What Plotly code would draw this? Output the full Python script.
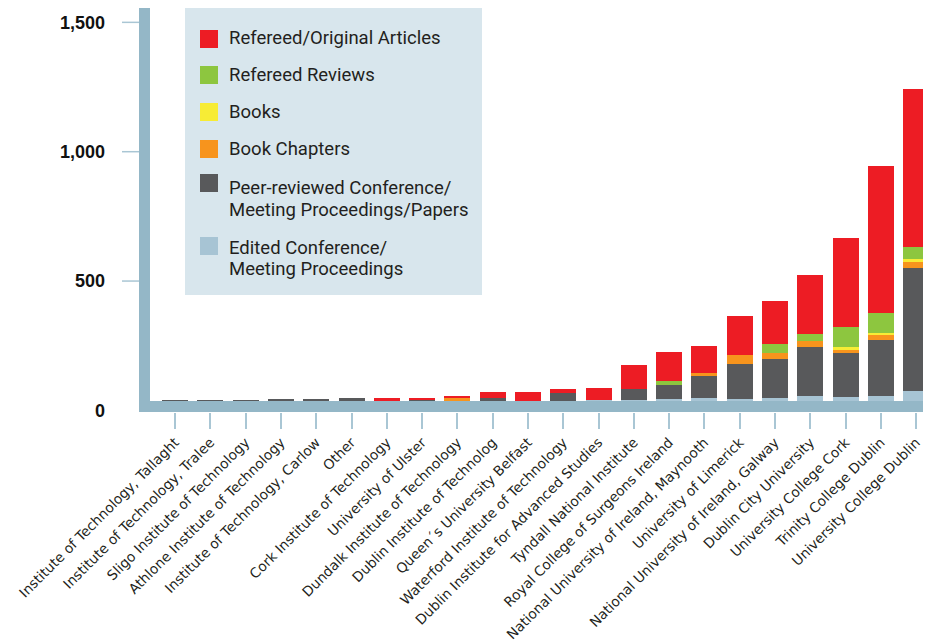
import plotly.graph_objects as go

categories = [
    "Institute of Technology, Tallaght",
    "Institute of Technology, Tralee",
    "Sligo Institute of Technology",
    "Athlone Institute of Technology",
    "Institute of Technology, Carlow",
    "Other",
    "Cork Institute of Technology",
    "University of Ulster",
    "Dundalk Institute of Technology",
    "Dublin Institute of Technolog",
    "Queen´s University Belfast",
    "Waterford Institute of Technology",
    "Dublin Institute for Advanced Studies",
    "Tyndall National Institute",
    "Royal College of Surgeons Ireland",
    "National University of Ireland, Maynooth",
    "University of Limerick",
    "National University of Ireland, Galway",
    "Dublin City University",
    "University College Cork",
    "Trinity College Dublin",
    "University College Dublin",
]

series_names = [
    "Edited Conference/<br>Meeting Proceedings",
    "Peer-reviewed Conference/<br>Meeting Proceedings/Papers",
    "Book Chapters",
    "Books",
    "Refereed Reviews",
    "Refereed/Original Articles",
]

edited_conf = [0, 0, 0, 0, 0, 0, 0, 0, 0, 0, 0, 0, 40, 40, 44, 48, 44, 48, 56, 52, 56, 75]
peer_conf = [40, 40, 40, 44, 44, 48, 34, 40, 36, 48, 34, 67, 0, 43, 54, 85, 136, 151, 189, 170, 216, 475]
book_chapters = [0, 0, 0, 0, 0, 0, 0, 0, 12, 0, 0, 0, 0, 0, 0, 12, 34, 23, 23, 12, 23, 23]
books = [0, 0, 0, 0, 0, 0, 0, 0, 0, 0, 0, 0, 0, 0, 0, 0, 0, 0, 0, 11, 4, 12]
refereed_reviews = [0, 0, 0, 0, 0, 0, 0, 0, 0, 0, 0, 0, 0, 0, 16, 0, 0, 35, 27, 77, 77, 46]
original_articles = [0, 0, 0, 0, 0, 0, 14, 8, 8, 23, 37, 16, 47, 93, 112, 104, 151, 166, 228, 344, 568, 610]

colors = ["#a7c4d4", "#58595b", "#f7941d", "#f7ec35", "#8dc63f", "#ed1c24"]

y_tick_vals = [0, 500, 1000, 1500]
y_tick_text = ["0", "500", "1,000", "1,500"]

series_values = [edited_conf, peer_conf, book_chapters, books, refereed_reviews, original_articles]

fig = go.Figure()
for name, vals, col in zip(series_names, series_values, colors):
    fig.add_trace(go.Bar(x=categories, y=vals, name=name.replace("<br>", " "),
                         marker=dict(color=col, line=dict(width=0)), showlegend=False))

# page body adds an 8px offset; work in reference-image pixel coordinates
OFF = 8
W, H = 931 - OFF, 641 - OFF
L, R, T, B = 150 - OFF, 0, 0, 641 - 412
pw, ph = W - L - R, H - T - B

def px(x):
    return (x - OFF - L) / pw

def py(y):
    return (H - B - (y - OFF)) / ph

band = "#94b7c7"
shapes = [
    dict(type="rect", xref="paper", yref="paper", x0=px(139), x1=1, y0=0, y1=py(401),
         fillcolor=band, line=dict(width=0), layer="above"),
    dict(type="rect", xref="paper", yref="paper", x0=px(139), x1=0, y0=0, y1=1,
         fillcolor=band, line=dict(width=0), layer="above"),
    dict(type="rect", xref="paper", yref="paper", x0=px(185), x1=px(482), y0=py(295), y1=py(8),
         fillcolor="#d8e6ed", line=dict(width=0), layer="above"),
]
for v in y_tick_vals[1:]:
    shapes.append(dict(type="line", xref="paper", yref="y", x0=px(122), x1=px(139), y0=v, y1=v,
                       line=dict(color="#a9c6d4", width=1.5)))

annotations = []
legend_order = [5, 4, 3, 2, 1, 0]
sq_centers = [39, 75, 112, 149, 183, 246]
line_centers = [[38.5], [75], [112], [149], [188, 209.5], [247.5, 269]]
for idx, sc, lcs in zip(legend_order, sq_centers, line_centers):
    shapes.append(dict(type="rect", xref="paper", yref="paper", x0=px(200), x1=px(218),
                       y0=py(sc + 9), y1=py(sc - 9), fillcolor=colors[idx],
                       line=dict(width=0), layer="above"))
    for line_text, lc in zip(series_names[idx].split("<br>"), lcs):
        annotations.append(dict(xref="paper", yref="paper", x=px(227), y=py(lc), text=line_text,
                                showarrow=False, xanchor="left", yanchor="middle", align="left",
                                font=dict(family="Roboto", size=18.5, color="#231f20")))

zero_px = 410.4
scale = 0.2587
y_top = (zero_px - OFF) / scale
y_bot = -(412 - zero_px) / scale

fig.update_layout(
    width=W, height=H,
    margin=dict(l=L, r=R, t=T, b=B, pad=0),
    barmode="stack",
    bargap=0.263,
    plot_bgcolor="white", paper_bgcolor="white",
    shapes=shapes,
    annotations=annotations,
    xaxis=dict(range=[-0.71, 21.42], showgrid=False, zeroline=False, showline=False,
               ticks="outside", ticklen=16, tickwidth=1.5, tickcolor="#a9c6d4",
               tickangle=-45, tickfont=dict(family="DejaVu Sans", size=13.8, color="#231f20")),
    yaxis=dict(range=[y_bot, y_top], showgrid=False, zeroline=False, showline=False,
               tickvals=y_tick_vals, ticktext=y_tick_text, ticks="",
               ticklabelstandoff=44,
               tickfont=dict(family="Liberation Sans", size=18, color="#111111", weight="bold")),
)

fig.write_html("out.html")
